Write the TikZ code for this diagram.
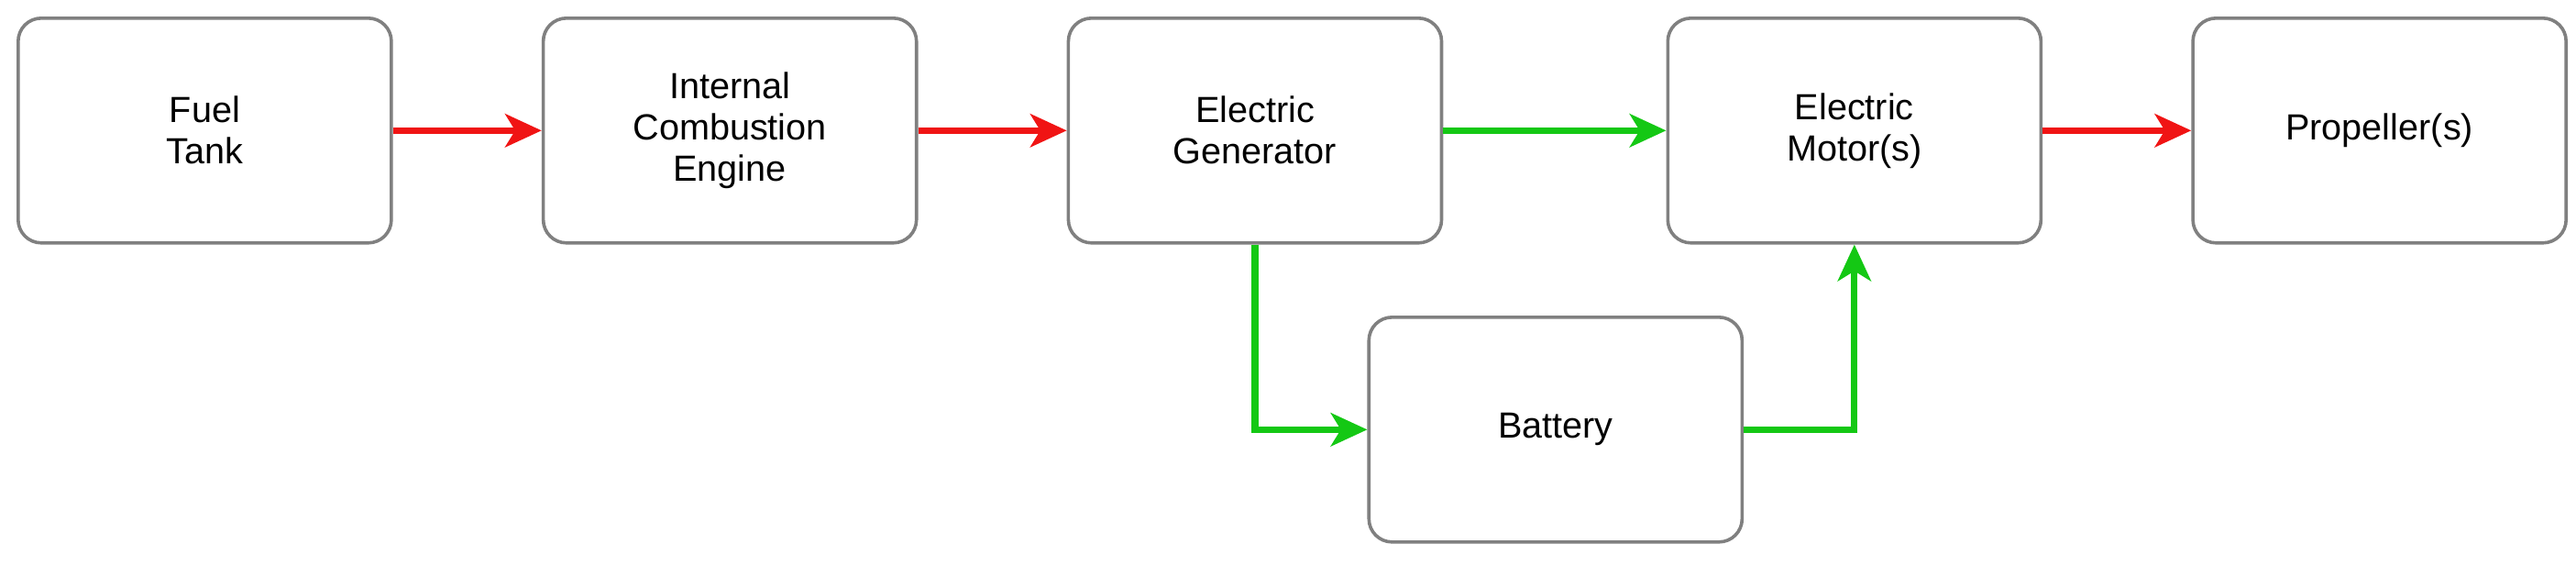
\documentclass[tikz,border=0pt]{standalone}
\usepackage{fontspec}
\setmainfont{Liberation Sans}
\usetikzlibrary{positioning,arrows.meta}
\definecolor{flowred}{RGB}{240,20,20}
\definecolor{flowgreen}{RGB}{20,200,20}
\begin{document}
\begin{tikzpicture}[%
    node distance=45pt,            % spacing between boxes
    ]
% -------------------------------------------------
% Box and connector styles
\tikzset{
  block/.style={draw=black!50, line width=1pt, rounded corners=7pt, fill=white,
    minimum width=113pt, minimum height=68pt, align=center,
    font=\fontsize{11}{12.5}\selectfont},
  fuel/.style={draw=flowred, line width=2pt, -{Stealth[length=11pt,width=10pt,inset=3pt]}},
  power/.style={draw=flowgreen, line width=2pt, -{Stealth[length=11pt,width=10pt,inset=3pt]}}
}
\useasboundingbox (0,0) rectangle (780pt,-171pt);
% -------------------------------------------------
% Place the nodes
\node [block] (tank) at (62pt,-39.5pt) {Fuel\\Tank};
\node [block, right = of tank] (ice) {Internal\\Combustion\\Engine};
\node [block, right = of ice] (gen) {Electric\\Generator};
\node [block, right = 67.5pt of gen] (motor) {Electric\\Motor(s)};
\node [block, right = of motor] (prop) {Propeller(s)};
\node [block, below right = 21.5pt and -23pt of gen] (batt) {Battery};

\draw[fuel] (tank) -- (ice);	%fuel line
\draw[fuel] (ice) -- (gen);	%shaft
\draw[power] (gen) -- (motor);
\draw[power] (gen.south) |- (batt.west);
\draw[power] (batt.east) -| (motor.south);
\draw[fuel] (motor) -- (prop);
% -------------------------------------------------
\end{tikzpicture}
\end{document}
